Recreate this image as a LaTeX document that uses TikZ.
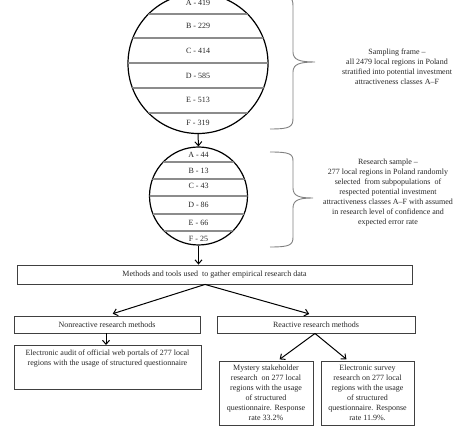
\documentclass[tikz,border=0pt]{standalone}
\usepackage{fontspec}
\setmainfont{Liberation Serif}
\usetikzlibrary{arrows.meta,calc}
\begin{document}
\begin{tikzpicture}[x=1pt,y=-1pt,
  every node/.style={font=\fontsize{8}{10}\selectfont, text=black!85},
  ring/.style={circle, draw=black, line width=1.2pt, minimum size=#1, inner sep=0pt},
  chord/.style={draw=black!45, line width=1.3pt},
  lbl/.style={inner sep=0pt},
  bx/.style={draw=black!75, line width=0.9pt, rectangle, inner sep=0pt, align=center},
  arr/.style={-{Straight Barb[length=4pt,width=7pt]}, line width=1pt, black},
  brace/.style={draw=black!50, line width=0.9pt},
  note/.style={align=center, inner sep=0pt}
]
\useasboundingbox (0,0) rectangle (474,435);

% big circle
\node[ring=140pt] (big) at (198,63.5) {};
\begin{scope}
  \clip (198,63.5) circle (70);
  \foreach \yy in {14,38,63,88,113} \draw[chord] (120,\yy) -- (280,\yy);
\end{scope}
\node[lbl] (bA) at (198,3) {A - 419};
\node[lbl] (bB) at (198,26) {B - 229};
\node[lbl] (bC) at (198,51) {C - 414};
\node[lbl] (bD) at (198,75.5) {D - 585};
\node[lbl] (bE) at (198,100) {E - 513};
\node[lbl] (bF) at (198,123) {F - 319};

% small circle
\node[ring=98pt] (small) at (198.5,196) {};
\begin{scope}
  \clip (198.5,196) circle (49);
  \foreach \yy in {162,179,196,214,231} \draw[chord] (140,\yy) -- (260,\yy);
\end{scope}
\node[lbl] (sA) at (198.5,155) {A - 44};
\node[lbl] (sB) at (198.5,171) {B - 13};
\node[lbl] (sC) at (198.5,186) {C - 43};
\node[lbl] (sD) at (198.5,205) {D - 86};
\node[lbl] (sE) at (198.5,222.5) {E - 66};
\node[lbl] (sF) at (198.5,238.5) {F - 25};

\draw[arr] (big.south) -- (small.north);

% braces
\draw[brace] (270,129) .. controls (290,129) and (293,127) .. (293,118) -- (293,72)
  .. controls (293,64) and (300,62) .. (315,62)
  .. controls (300,62) and (293,60) .. (293,52) -- (293,6)
  .. controls (293,-3) and (290,-5) .. (270,-5);
\draw[brace] (270,247) .. controls (290,247) and (293,245) .. (293,237) -- (293,208)
  .. controls (293,200) and (299,198) .. (313,198)
  .. controls (299,198) and (293,196) .. (293,188) -- (293,161)
  .. controls (293,154) and (290,152) .. (270,152);

\node[note] (frame) at (397,67) {Sampling frame –\\all 2479 local regions in Poland\\stratified into potential investment\\attractiveness classes A–F};
\node[note] (sample) at (388,193) {Research sample –\\277 local regions in Poland randomly\\selected\ \ from subpopulations\ \ of\\respected potential investment\\attractiveness classes A–F with assumed\\in research level of confidence and\\expected error rate};

% boxes
\node[bx, minimum width=395pt, minimum height=19pt] (methods) at (214.5,274.5) {Methods and tools used\ \ to gather empirical research data};
\node[bx, minimum width=186pt, minimum height=17pt] (nonr) at (107,324.5) {Nonreactive research methods};
\node[bx, minimum width=198pt, minimum height=17pt] (reac) at (316,324.5) {Reactive research methods};
\node[bx, minimum width=187pt, minimum height=44pt, anchor=north] (audit) at (107.5,345) {};
\node[note, anchor=north] (audittext) at ([yshift=-5pt]audit.north) {Electronic audit of official web portals of 277 local\\regions with the usage of structured questionnaire};
\node[bx, minimum width=94pt, minimum height=64pt] (myst) at (266,393) {Mystery stakeholder\\research\ \ on 277 local\\regions with the usage\\of structured\\questionnaire. Response\\rate 33.2\%};
\node[bx, minimum width=93pt, minimum height=64pt] (elec) at (367.5,393) {Electronic survey\\research on 277 local\\regions with the usage\\of structured\\questionnaire. Response\\rate 11.9\%.};

% connectors
\draw[arr] (small.south) -- (small.south |- methods.north);
\draw[arr, shorten >=6pt] ([xshift=-9.5pt]methods.south) -- (nonr.north);
\draw[arr, shorten >=6pt] ([xshift=-9.5pt]methods.south) -- ([xshift=-1pt]reac.north);
\draw[arr] ([xshift=-1pt]nonr.south) -- ([xshift=-1.5pt]audit.north);
\draw[arr, shorten >=2pt] ([xshift=-1pt]reac.south) -- ([xshift=12pt]myst.north);
\draw[arr, shorten >=2pt] ([xshift=-1pt]reac.south) -- ([xshift=-19.5pt]elec.north);
\end{tikzpicture}
\end{document}
